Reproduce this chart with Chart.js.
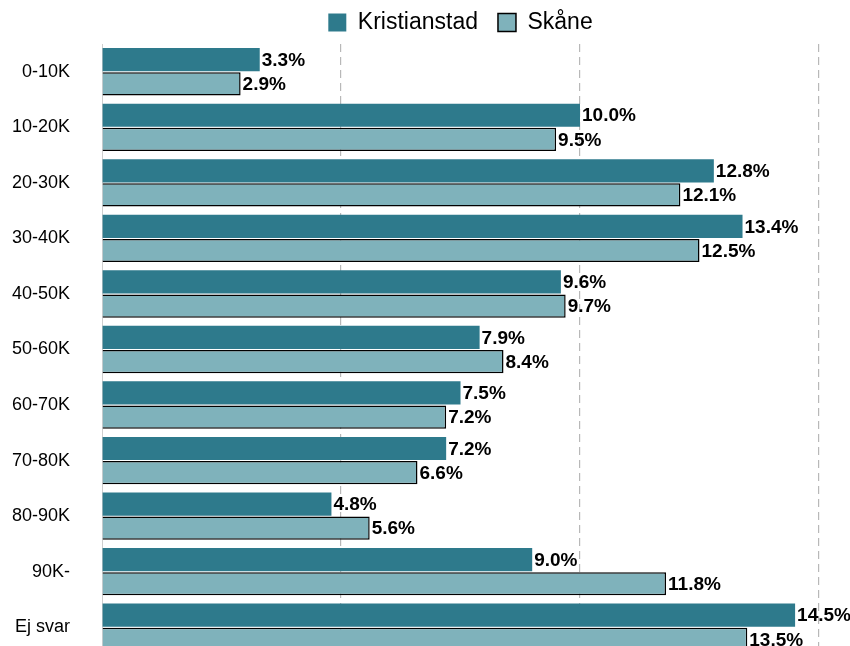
<!DOCTYPE html>
<html>
<head>
<meta charset="utf-8">
<script src="https://cdn.jsdelivr.net/npm/chart.js@4"></script>
<style>
  html, body { margin: 0; padding: 0; overflow: hidden; background: #fff; }
  canvas { display: block; }
</style>
</head>
<body>
<canvas id="chart" width="850" height="660"></canvas>
<script>
// income brackets
var categories = ["0-10K", "10-20K", "20-30K", "30-40K", "40-50K", "50-60K", "60-70K", "70-80K", "80-90K", "90K-", "Ej svar"];
var kristianstad = [3.3, 10.0, 12.8, 13.4, 9.6, 7.9, 7.5, 7.2, 4.8, 9.0, 14.5];
var skane = [2.9, 9.5, 12.1, 12.5, 9.7, 8.4, 7.2, 6.6, 5.6, 11.8, 13.5];
var gridTicks = [0, 5, 10, 15];

// value labels at the end of each bar
var barLabels = {
  id: 'barLabels',
  afterDatasetsDraw: function(chart) {
    var ctx = chart.ctx;
    ctx.save();
    ctx.font = "bold 19px 'Liberation Sans', Arial, sans-serif";
    ctx.fillStyle = '#000';
    ctx.textAlign = 'left';
    ctx.textBaseline = 'middle';
    chart.data.datasets.forEach(function(ds, i) {
      chart.getDatasetMeta(i).data.forEach(function(bar, j) {
        ctx.fillText(ds.data[j].toFixed(1) + '%', bar.x + 2, bar.y + 1);
      });
    });
    ctx.restore();
  }
};

// centre the legend over the plot instead of the whole canvas
var legendOverPlot = {
  id: 'legendOverPlot',
  afterLayout: function(chart) {
    if (!chart.legend) return;
    chart.legend.left = chart.chartArea.left;
    chart.legend.right = chart.chartArea.right;
    chart.legend.width = chart.chartArea.right - chart.chartArea.left;
  }
};

var ctx = document.getElementById("chart").getContext('2d');
var chart = new Chart(ctx, {
  type: 'bar',
  data: {
    labels: categories,
    datasets: [{
      label: "Kristianstad",
      data: kristianstad,
      backgroundColor: '#2e7a8c',
      borderWidth: 0,
      categoryPercentage: 0.87,
      barPercentage: 0.96
    }, {
      label: "Skåne",
      data: skane,
      backgroundColor: '#7fb2bb',
      borderColor: '#000',
      borderWidth: 1.5,
      categoryPercentage: 0.87,
      barPercentage: 0.96
    }]
  },
  options: {
    indexAxis: 'y',
    responsive: false,
    animation: false,
    layout: { padding: { top: -9, right: 31, bottom: 5, left: 0 } },
    plugins: {
      tooltip: { enabled: false },
      legend: {
        position: 'top',
        labels: {
          color: '#000',
          font: { family: "'Liberation Sans', Arial, sans-serif", size: 23 },
          boxWidth: 18,
          boxHeight: 18,
          padding: 20
        }
      }
    },
    scales: {
      x: {
        min: 0,
        max: 15,
        afterBuildTicks: function(scale) {
          scale.ticks = gridTicks.map(function(v) { return { value: v }; });
        },
        afterFit: function(scale) { scale.height = 0; },
        ticks: { display: false },
        border: { display: false, dash: [8, 5] },
        grid: {
          drawTicks: false,
          lineWidth: 1.2,
          color: function(c) { return c.tick && c.tick.value === 0 ? 'rgba(0,0,0,0)' : '#b8b8b8'; }
        }
      },
      y: {
        afterFit: function(scale) {
          scale.width = 102;
          scale.paddingTop = 0;
          scale.paddingBottom = 0;
        },
        border: { display: true, color: '#cfcfcf', width: 1 },
        grid: { display: false, drawTicks: false },
        ticks: {
          color: '#000',
          padding: 32,
          font: { family: "'Liberation Sans', Arial, sans-serif", size: 18 }
        }
      }
    }
  },
  plugins: [barLabels, legendOverPlot]
});
</script>
</body>
</html>
